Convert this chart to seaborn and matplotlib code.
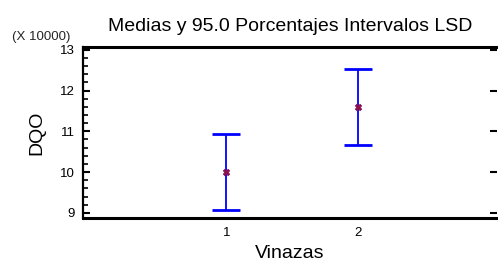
import numpy as np
import pandas as pd
import seaborn as sns
import matplotlib
matplotlib.use("Agg")
import matplotlib.pyplot as plt
from matplotlib.ticker import MultipleLocator, AutoMinorLocator

# data (DQO in units of 10000)
vinazas = [1, 2]
medias = [10.0, 11.6]
lsd_low = [9.06, 10.66]
lsd_high = [10.94, 12.54]

sns.set_theme(style="white")
plt.rcParams['font.family'] = ['Liberation Sans', 'DejaVu Sans']

df = pd.DataFrame({"Vinazas": vinazas, "DQO": medias,
                   "lo": lsd_low, "hi": lsd_high})

fig = plt.figure(figsize=(4.98, 2.65), dpi=100)
ax = fig.add_axes([0.166, 0.177, 0.832, 0.644])

err = [df["DQO"] - df["lo"], df["hi"] - df["DQO"]]
ax.errorbar(df["Vinazas"], df["DQO"], yerr=err, fmt="none", ecolor="#0000ff",
            elinewidth=1.3, capsize=10, capthick=2)
sns.scatterplot(data=df, x="Vinazas", y="DQO", ax=ax, marker="X", s=22,
                color="#8b1050", edgecolor="#8b1050", linewidth=0.5, zorder=5)

ax.set_xlim(-0.09, 3.05)
ax.set_ylim(8.87, 13.06)
ax.set_xticks(vinazas)
ax.set_xticklabels([str(v) for v in vinazas])
ax.yaxis.set_major_locator(MultipleLocator(1))
ax.yaxis.set_minor_locator(AutoMinorLocator(5))

for s in ["top", "bottom"]:
    ax.spines[s].set_linewidth(2.2)
    ax.spines[s].set_color("black")
ax.spines["left"].set_linewidth(1.6)
ax.spines["left"].set_color("black")
ax.spines["right"].set_visible(False)

ax.tick_params(axis="x", length=0, pad=6.5, labelsize=9.5, colors="black")
ax.tick_params(axis="y", which="major", direction="in", length=5, width=1.5,
               left=True, right=True, labelsize=9.5, pad=5.5, colors="black")
ax.tick_params(axis="y", which="minor", direction="in", length=3.4, width=1.2,
               left=True, right=False, colors="black")

ax.set_xlabel("Vinazas", fontsize=14, labelpad=4, color="black")
ax.set_ylabel("DQO", fontsize=14, labelpad=11, color="black")
ax.set_title("Medias y 95.0 Porcentajes Intervalos LSD", fontsize=14,
             pad=12, color="black")
fig.text(0.024, 0.86, "(X 10000)", fontsize=9.5, ha="left", va="center")

fig.savefig("out.png", dpi=100)
